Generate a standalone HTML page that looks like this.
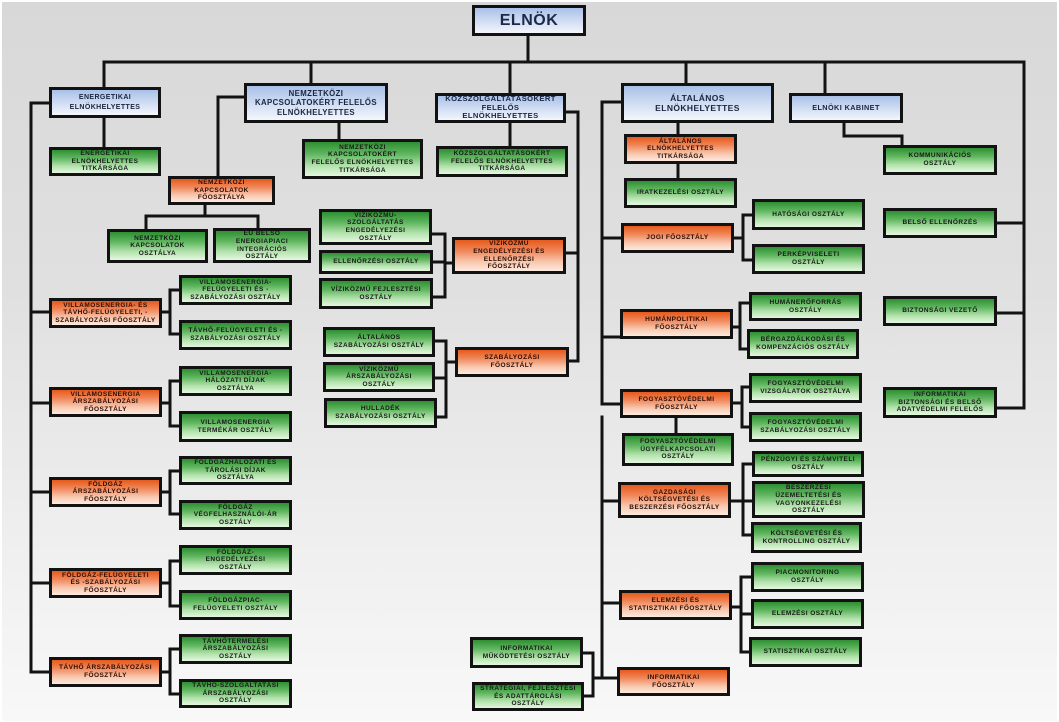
<!DOCTYPE html>
<html><head><meta charset="utf-8"><style>
html,body{margin:0;padding:0;}
body{width:1059px;height:722px;position:relative;overflow:hidden;background:#fff;font-family:"Liberation Sans",Arial,sans-serif;}
#bg{position:absolute;left:2px;top:2px;width:1055px;height:719px;background:linear-gradient(to bottom,#d8d8d8 0%,#e0e0e0 40%,#efefef 75%,#f8f8f8 100%);}
svg{position:absolute;left:0;top:0;}
.x{position:absolute;box-sizing:border-box;border:3px solid #121212;display:flex;align-items:center;justify-content:center;text-align:center;font-weight:bold;font-size:6.5px;line-height:7.6px;letter-spacing:0.45px;color:#1a1a1a;overflow:visible;white-space:nowrap;}
.b{background:linear-gradient(to bottom,#a9c1e8 0%,#cfdcf2 50%,#f3f6fc 100%);color:#1b2540;font-size:8px;line-height:9.5px;letter-spacing:0.4px;}
.g{background:linear-gradient(to bottom,#2f8f32 0%,#5fb65f 35%,#b3e2ac 70%,#e4f7e0 100%);}
.o{background:linear-gradient(to bottom,#e65a1c 0%,#f0875a 35%,#f8c7ae 70%,#fce9df 100%);color:#2a0e06;}
</style></head><body>
<div id="bg"></div>
<svg width="1059" height="722" viewBox="0 0 1059 722">
<g fill="none" stroke="#121212" stroke-width="3" stroke-linecap="square">
<path d="M528,36V62M104,62H1024M104,62V87M311,62V83M510,62V93M686,62V83M825,62V93M1024,62V408"/>
<path d="M104,118V147M31,103H49M31,103V672M31,312H49M31,403H49M31,492H49M31,583H49M31,672H49"/>
<path d="M162,312H170M170,290V334M170,290H179M170,334H179"/>
<path d="M162,403H170M170,381V426M170,381H179M170,426H179"/>
<path d="M162,492H170M170,471V514M170,471H179M170,514H179"/>
<path d="M162,583H170M170,561V606M170,561H179M170,606H179"/>
<path d="M162,672H170M170,649V694M170,649H179M170,694H179"/>
<path d="M244,97H218V176M339,123V139M205,205V216M146,216H258M146,216V229M258,216V228"/>
<path d="M510,123V146M566,112H578V361M566,253H578M569,361H578"/>
<path d="M432,234H445M433,262H445M433,297H445M445,234V297M445,263H452"/>
<path d="M435,341H446M435,378H446M437,417H446M446,341V417M446,362H455"/>
<path d="M621,102H602V404M678,123V134M678,164V178M602,238H621"/>
<path d="M734,238H743M743,215V260M743,215H752M743,260H752"/>
<path d="M602,337H620M733,327H740M740,303V349M740,303H749M740,349H747"/>
<path d="M602,404H620M733,403H742M742,387V427M742,387H749M742,427H749M676,418V433"/>
<path d="M602,417V678M602,501H618M731,501H752M743,464V535M743,464H752M743,535H751"/>
<path d="M602,603H619M732,607H741M741,577V652M741,577H751M741,614H751M741,652H749"/>
<path d="M593,678H617M593,653V696M583,653H593M584,696H593"/>
<path d="M844,123V136H902V145M997,223H1024M997,313H1024M997,408H1024"/>
</g>
</svg>

<div class="x b" style="left:472px;top:5px;width:114px;height:31px;font-size:16px;line-height:18px;letter-spacing:0.5px;color:#1b2a4a;">ELNÖK</div>
<div class="x b" style="left:49px;top:87px;width:112px;height:31px;font-size:7px;">ENERGETIKAI<br>ELNÖKHELYETTES</div>
<div class="x b" style="left:244px;top:83px;width:144px;height:40px;font-size:7.8px;">NEMZETKÖZI<br>KAPCSOLATOKÉRT FELELŐS<br>ELNÖKHELYETTES</div>
<div class="x b" style="left:435px;top:93px;width:131px;height:30px;font-size:7.6px;line-height:8.5px;">KÖZSZOLGÁLTATÁSOKÉRT<br>FELELŐS<br>ELNÖKHELYETTES</div>
<div class="x b" style="left:621px;top:83px;width:153px;height:40px;font-size:8.5px;line-height:10px;">ÁLTALÁNOS<br>ELNÖKHELYETTES</div>
<div class="x b" style="left:789px;top:93px;width:114px;height:30px;font-size:7.3px;">ELNÖKI KABINET</div>

<div class="x g" style="left:49px;top:147px;width:112px;height:29px;">ENERGETIKAI<br>ELNÖKHELYETTES<br>TITKÁRSÁGA</div>
<div class="x g" style="left:302px;top:139px;width:121px;height:40px;">NEMZETKÖZI<br>KAPCSOLATOKÉRT<br>FELELŐS ELNÖKHELYETTES<br>TITKÁRSÁGA</div>
<div class="x g" style="left:436px;top:146px;width:132px;height:31px;">KÖZSZOLGÁLTATÁSOKÉRT<br>FELELŐS ELNÖKHELYETTES<br>TITKÁRSÁGA</div>
<div class="x o" style="left:168px;top:176px;width:107px;height:29px;">NEMZETKÖZI<br>KAPCSOLATOK<br>FŐOSZTÁLYA</div>
<div class="x g" style="left:107px;top:229px;width:101px;height:34px;">NEMZETKÖZI<br>KAPCSOLATOK<br>OSZTÁLYA</div>
<div class="x g" style="left:213px;top:228px;width:98px;height:35px;">EU BELSŐ<br>ENERGIAPIACI<br>INTEGRÁCIÓS<br>OSZTÁLY</div>

<div class="x g" style="left:319px;top:209px;width:113px;height:36px;">VÍZIKÖZMŰ-<br>SZOLGÁLTATÁS<br>ENGEDÉLYEZÉSI<br>OSZTÁLY</div>
<div class="x g" style="left:319px;top:250px;width:114px;height:24px;">ELLENŐRZÉSI OSZTÁLY</div>
<div class="x g" style="left:319px;top:278px;width:114px;height:31px;">VÍZIKÖZMŰ FEJLESZTÉSI<br>OSZTÁLY</div>
<div class="x o" style="left:452px;top:237px;width:114px;height:37px;">VÍZIKÖZMŰ<br>ENGEDÉLYEZÉSI ÉS<br>ELLENŐRZÉSI<br>FŐOSZTÁLY</div>
<div class="x g" style="left:323px;top:327px;width:112px;height:30px;">ÁLTALÁNOS<br>SZABÁLYOZÁSI OSZTÁLY</div>
<div class="x g" style="left:323px;top:362px;width:112px;height:30px;">VÍZIKÖZMŰ<br>ÁRSZABÁLYOZÁSI<br>OSZTÁLY</div>
<div class="x g" style="left:324px;top:398px;width:113px;height:30px;">HULLADÉK<br>SZABÁLYOZÁSI OSZTÁLY</div>
<div class="x o" style="left:455px;top:347px;width:114px;height:30px;">SZABÁLYOZÁSI<br>FŐOSZTÁLY</div>

<div class="x o" style="left:624px;top:134px;width:113px;height:30px;">ÁLTALÁNOS<br>ELNÖKHELYETTES<br>TITKÁRSÁGA</div>
<div class="x g" style="left:624px;top:178px;width:113px;height:30px;">IRATKEZELÉSI OSZTÁLY</div>
<div class="x o" style="left:621px;top:223px;width:113px;height:30px;">JOGI FŐOSZTÁLY</div>
<div class="x g" style="left:752px;top:199px;width:113px;height:31px;">HATÓSÁGI OSZTÁLY</div>
<div class="x g" style="left:752px;top:244px;width:113px;height:30px;">PERKÉPVISELETI<br>OSZTÁLY</div>
<div class="x g" style="left:883px;top:145px;width:114px;height:30px;">KOMMUNIKÁCIÓS<br>OSZTÁLY</div>
<div class="x g" style="left:883px;top:208px;width:114px;height:30px;">BELSŐ ELLENŐRZÉS</div>
<div class="x g" style="left:883px;top:296px;width:114px;height:30px;">BIZTONSÁGI VEZETŐ</div>
<div class="x g" style="left:883px;top:387px;width:114px;height:31px;">INFORMATIKAI<br>BIZTONSÁGI ÉS BELSŐ<br>ADATVÉDELMI FELELŐS</div>

<div class="x o" style="left:620px;top:309px;width:113px;height:30px;">HUMÁNPOLITIKAI<br>FŐOSZTÁLY</div>
<div class="x g" style="left:749px;top:292px;width:113px;height:29px;">HUMÁNERŐFORRÁS<br>OSZTÁLY</div>
<div class="x g" style="left:747px;top:329px;width:112px;height:30px;">BÉRGAZDÁLKODÁSI ÉS<br>KOMPENZÁCIÓS OSZTÁLY</div>
<div class="x o" style="left:620px;top:389px;width:113px;height:29px;">FOGYASZTÓVÉDELMI<br>FŐOSZTÁLY</div>
<div class="x g" style="left:749px;top:373px;width:113px;height:30px;">FOGYASZTÓVÉDELMI<br>VIZSGÁLATOK OSZTÁLYA</div>
<div class="x g" style="left:749px;top:412px;width:113px;height:30px;">FOGYASZTÓVÉDELMI<br>SZABÁLYOZÁSI OSZTÁLY</div>
<div class="x g" style="left:622px;top:433px;width:112px;height:33px;">FOGYASZTÓVÉDELMI<br>ÜGYFÉLKAPCSOLATI<br>OSZTÁLY</div>
<div class="x o" style="left:618px;top:482px;width:113px;height:36px;">GAZDASÁGI<br>KÖLTSÉGVETÉSI ÉS<br>BESZERZÉSI FŐOSZTÁLY</div>
<div class="x g" style="left:752px;top:451px;width:112px;height:26px;">PÉNZÜGYI ÉS SZÁMVITELI<br>OSZTÁLY</div>
<div class="x g" style="left:752px;top:481px;width:113px;height:37px;">BESZERZÉSI<br>ÜZEMELTETÉSI ÉS<br>VAGYONKEZELÉSI<br>OSZTÁLY</div>
<div class="x g" style="left:751px;top:522px;width:111px;height:31px;">KÖLTSÉGVETÉSI ÉS<br>KONTROLLING OSZTÁLY</div>
<div class="x o" style="left:619px;top:590px;width:113px;height:30px;">ELEMZÉSI ÉS<br>STATISZTIKAI FŐOSZTÁLY</div>
<div class="x g" style="left:751px;top:562px;width:113px;height:30px;">PIACMONITORING<br>OSZTÁLY</div>
<div class="x g" style="left:751px;top:599px;width:113px;height:30px;">ELEMZÉSI OSZTÁLY</div>
<div class="x g" style="left:749px;top:637px;width:113px;height:30px;">STATISZTIKAI OSZTÁLY</div>
<div class="x o" style="left:617px;top:667px;width:113px;height:29px;">INFORMATIKAI<br>FŐOSZTÁLY</div>
<div class="x g" style="left:470px;top:637px;width:113px;height:31px;">INFORMATIKAI<br>MŰKÖDTETÉSI OSZTÁLY</div>
<div class="x g" style="left:472px;top:682px;width:112px;height:29px;">STRATÉGIAI, FEJLESZTÉSI<br>ÉS ADATTÁROLÁSI<br>OSZTÁLY</div>

<div class="x o" style="left:49px;top:298px;width:113px;height:30px;">VILLAMOSENERGIA- ÉS<br>TÁVHŐ-FELÜGYELETI, -<br>SZABÁLYOZÁSI FŐOSZTÁLY</div>
<div class="x g" style="left:179px;top:275px;width:113px;height:30px;">VILLAMOSENERGIA-<br>FELÜGYELETI ÉS -<br>SZABÁLYOZÁSI OSZTÁLY</div>
<div class="x g" style="left:179px;top:320px;width:113px;height:30px;">TÁVHŐ-FELÜGYELETI ÉS -<br>SZABÁLYOZÁSI OSZTÁLY</div>
<div class="x o" style="left:49px;top:387px;width:113px;height:30px;">VILLAMOSENERGIA<br>ÁRSZABÁLYOZÁSI<br>FŐOSZTÁLY</div>
<div class="x g" style="left:179px;top:366px;width:113px;height:30px;">VILLAMOSENERGIA-<br>HÁLÓZATI DÍJAK<br>OSZTÁLYA</div>
<div class="x g" style="left:179px;top:411px;width:113px;height:31px;">VILLAMOSENERGIA<br>TERMÉKÁR OSZTÁLY</div>
<div class="x o" style="left:49px;top:477px;width:113px;height:30px;">FÖLDGÁZ<br>ÁRSZABÁLYOZÁSI<br>FŐOSZTÁLY</div>
<div class="x g" style="left:179px;top:456px;width:113px;height:29px;">FÖLDGÁZHÁLÓZATI ÉS<br>TÁROLÁSI DÍJAK<br>OSZTÁLYA</div>
<div class="x g" style="left:179px;top:500px;width:113px;height:30px;">FÖLDGÁZ<br>VÉGFELHASZNÁLÓI-ÁR<br>OSZTÁLY</div>
<div class="x o" style="left:49px;top:568px;width:113px;height:30px;">FÖLDGÁZ-FELÜGYELETI<br>ÉS -SZABÁLYOZÁSI<br>FŐOSZTÁLY</div>
<div class="x g" style="left:179px;top:545px;width:113px;height:30px;">FÖLDGÁZ-<br>ENGEDÉLYEZÉSI<br>OSZTÁLY</div>
<div class="x g" style="left:179px;top:590px;width:113px;height:30px;">FÖLDGÁZPIAC-<br>FELÜGYELETI OSZTÁLY</div>
<div class="x o" style="left:49px;top:657px;width:113px;height:30px;">TÁVHŐ ÁRSZABÁLYOZÁSI<br>FŐOSZTÁLY</div>
<div class="x g" style="left:179px;top:634px;width:113px;height:30px;">TÁVHŐTERMELÉSI<br>ÁRSZABÁLYOZÁSI<br>OSZTÁLY</div>
<div class="x g" style="left:179px;top:679px;width:113px;height:29px;">TÁVHŐ-SZOLGÁLTATÁSI<br>ÁRSZABÁLYOZÁSI<br>OSZTÁLY</div>
</body></html>
